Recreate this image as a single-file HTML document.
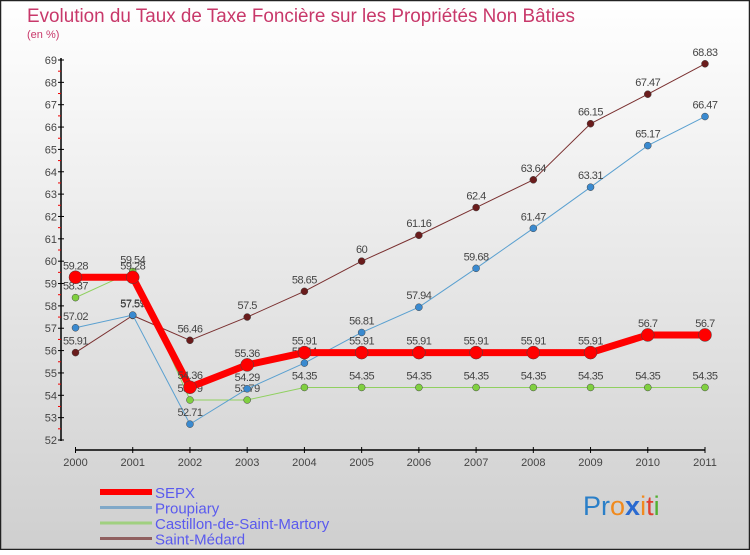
<!DOCTYPE html>
<html><head><meta charset="utf-8"><style>
html,body{margin:0;padding:0}
body{width:750px;height:550px;overflow:hidden;font-family:"Liberation Sans",sans-serif}
</style></head><body>
<svg width="750" height="550" viewBox="0 0 750 550" xmlns="http://www.w3.org/2000/svg">
<defs><linearGradient id="bg" x1="0" y1="0" x2="0" y2="1"><stop offset="0" stop-color="#ffffff"/><stop offset="1" stop-color="#cfcfcf"/></linearGradient></defs>
<rect x="0.5" y="0.5" width="749" height="549" fill="url(#bg)" stroke="#222" stroke-width="1.5"/>
<text x="27" y="22" font-size="19" fill="#c8386a" textLength="548" lengthAdjust="spacingAndGlyphs">Evolution du Taux de Taxe Foncière sur les Propriétés Non Bâties</text>
<text x="27" y="38" font-size="11" fill="#c8386a">(en %)</text>
<g id="axes"></g>
<g id="series"></g>
<g id="legend"></g>
<text x="583" y="515" font-size="27"><tspan fill="#2a7fc8">Pr</tspan><tspan fill="#f08a1e">o</tspan><tspan fill="#2a6ad0" font-weight="bold">x</tspan><tspan fill="#f08a1e">i</tspan><tspan fill="#e04030">t</tspan><tspan fill="#50b030">i</tspan></text>
</svg>
<script>
const years = ["2000","2001","2002","2003","2004","2005","2006","2007","2008","2009","2010","2011"];
const yTicks = [52,53,54,55,56,57,58,59,60,61,62,63,64,65,66,67,68,69];
const sepx = [59.28,59.28,54.36,55.36,55.91,55.91,55.91,55.91,55.91,55.91,56.7,56.7];
const proupiary = [57.02,57.59,52.71,54.29,55.44,56.81,57.94,59.68,61.47,63.31,65.17,66.47];
const castillon = [58.37,59.54,53.79,53.79,54.35,54.35,54.35,54.35,54.35,54.35,54.35,54.35];
const medard = [55.91,57.57,56.46,57.5,58.65,60,61.16,62.4,63.64,66.15,67.47,68.83];
const NS="http://www.w3.org/2000/svg";
const x0=75.5,x1=705,yTop=60,yBot=440,vMin=52,vMax=69;
const X=i=>x0+i*(x1-x0)/(years.length-1);
const Y=v=>yBot-(v-vMin)*(yBot-yTop)/(vMax-vMin);
function mk(tag,attrs,parent){const e=document.createElementNS(NS,tag);for(const k in attrs)e.setAttribute(k,attrs[k]);parent.appendChild(e);return e;}
const axes=document.getElementById('axes');
const ya=mk('line',{x1:61,y1:58,x2:61,y2:441,stroke:'#000','stroke-width':1.5},axes);


const xa=mk('line',{x1:x0,y1:450,x2:x1,y2:450,stroke:'#000','stroke-width':1.5},axes);


yTicks.forEach((v,i)=>{
  mk('line',{x1:58,x2:64,y1:Y(v),y2:Y(v),stroke:'#000'},axes);
  if(i<yTicks.length-1) mk('line',{x1:58,x2:61,y1:Y(v+0.5),y2:Y(v+0.5),stroke:'#e00'},axes);
  const t=mk('text',{x:57,y:Y(v)+4,'font-size':11,fill:'#444','text-anchor':'end'},axes);
  t.textContent=v;
  
  
});
years.forEach((y,i)=>{
  mk('line',{x1:X(i),x2:X(i),y1:447,y2:453,stroke:'#000'},axes);
  const t=mk('text',{x:X(i),y:466,'font-size':11,fill:'#444','text-anchor':'middle'},axes);
  t.textContent=y;
  
  
});
const ser=document.getElementById('series');
function draw(vals,name,color,w,r,dotFill){
  const g=mk('g',{},ser);
  
  
  const p=mk('polyline',{points:vals.map((v,i)=>X(i)+','+Y(v)).join(' '),fill:'none',stroke:color,'stroke-width':w,'stroke-linejoin':'round'},g);
  
  
  vals.forEach((v,i)=>{
    const c=mk('circle',{cx:X(i),cy:Y(v),r:r,fill:dotFill,stroke:'#444','stroke-width':0.5},g);
    
    
    const t=mk('text',{x:X(i),y:Y(v)-8,'font-size':11,fill:'#444','text-anchor':'middle','letter-spacing':'-0.5'},g);
    t.textContent=String(v);
    
    
  });
}
draw(medard,'saint-medard','#7a3030',1,3.5,'#6a1c1c');
draw(castillon,'castillon','#90d060',1,3.5,'#80d040');
draw(proupiary,'proupiary','#5aa0d0',1,3.5,'#3a8ad0');
draw(sepx,'sepx','#ff0000',7,6.5,'#ff0000');
const leg=document.getElementById('legend');
const items=[['SEPX','#ff0000',6],['Proupiary','#80a8c8',3],['Castillon-de-Saint-Martory','#a0d080',3],['Saint-Médard','#906060',3]];
items.forEach((it,i)=>{
  const y=492+i*15.5;
  const l=mk('line',{x1:100,x2:152,y1:y,y2:y,stroke:it[1],'stroke-width':it[2]},leg);
  
  
  const t=mk('text',{x:155,y:y+6,'font-size':15,fill:'#5a5aee'},leg);
  t.textContent=it[0];
  
  
});
</script>
</body></html>
